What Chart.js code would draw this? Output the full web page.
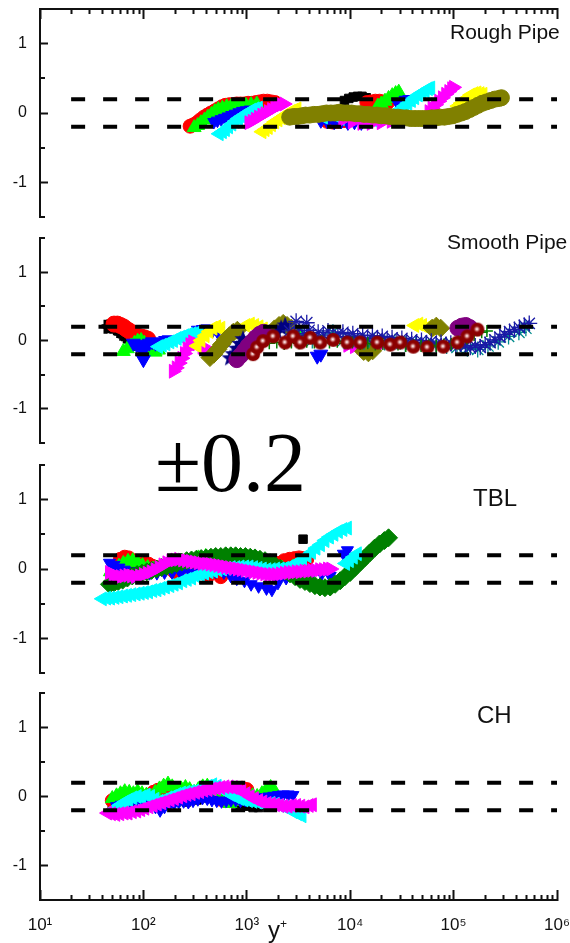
<!DOCTYPE html>
<html><head><meta charset="utf-8">
<script src="https://cdn.jsdelivr.net/npm/chart.js@4.4.1/dist/chart.umd.min.js"></script>
<style>
html,body{margin:0;padding:0;background:#fff;width:570px;height:943px;overflow:hidden;position:relative;}
canvas{position:absolute;left:0;}
.lbl{position:absolute;font-family:'Liberation Sans',Arial,sans-serif;color:#111;line-height:1;white-space:nowrap;}
.big{position:absolute;font-family:'Liberation Serif','Times New Roman',serif;color:#000;line-height:1;white-space:nowrap;}
</style></head>
<body>
<canvas id="p1" width="570" height="229" style="top:0px"></canvas>
<canvas id="p2" width="570" height="227" style="top:227px"></canvas>
<canvas id="p3" width="570" height="228" style="top:455px"></canvas>
<canvas id="p4" width="570" height="260" style="top:683px"></canvas>
<div class="lbl" style="left:450px;top:21px;font-size:21px">Rough Pipe</div>
<div class="lbl" style="left:447px;top:231px;font-size:21px">Smooth Pipe</div>
<div class="lbl" style="left:473px;top:486px;font-size:24px">TBL</div>
<div class="lbl" style="left:477px;top:703px;font-size:24px">CH</div>
<div class="big" style="left:155px;top:421px;font-size:84px">±0.2</div>
<div class="lbl" style="left:268px;top:918px;font-size:24px">y<span style="font-size:12px;vertical-align:10px">+</span></div>
<script>
// ---------- axis definitions ----------
const X_RANGE = [10, 1e6];
const Y_RANGE = [-1.5, 1.5];
const X_MAJOR = [10, 100, 1000, 10000, 100000, 1000000];
const Y_MAJOR = [-1, 0, 1];
const Y_MINOR = [-1.5, -0.5, 0.5, 1.5];
const BAND_LEVELS = [0.2, -0.2];
const BAND_X = [20, 1e6];

// ---------- Rough Pipe ----------
const rpBlack = [[290,-0.2],[320,-0.19],[350,-0.17],[3000,0.0],[5000,0.02],[8800,0.18],[9700,0.21],[10700,0.23],[11800,0.24],[13000,0.24],[14300,0.22]];
const rpRed = [[283,-0.19],[305,-0.17],[330,-0.14],[355,-0.1],[385,-0.06],[415,-0.03],[450,0.0],[490,0.03],[530,0.06],[575,0.09],[620,0.11],[680,0.12],[740,0.12],[800,0.13],[870,0.13],[950,0.13],[1030,0.14],[1120,0.14],[1220,0.15],[1330,0.16],[1450,0.17],[1580,0.17],[1720,0.16],[1880,0.15],[6000,-0.12],[6800,-0.13],[7700,-0.12],[8700,-0.11],[14500,0.15],[16000,0.16],[17500,0.17],[19200,0.17],[21000,0.16],[23000,0.15]];
const rpLime = [[310,-0.21],[335,-0.18],[360,-0.14],[390,-0.1],[420,-0.06],[455,-0.02],[490,0.02],[530,0.05],[580,0.07],[640,0.09],[710,0.1],[790,0.1],[880,0.11],[980,0.11],[1100,0.12],[1250,0.13],[18500,0.1],[20000,0.13],[21700,0.17],[23500,0.21],[25500,0.25],[27500,0.28],[29500,0.3]];
const rpBlue = [[480,-0.13],[520,-0.11],[565,-0.09],[610,-0.07],[660,-0.05],[715,-0.03],[775,-0.01],[840,0.01],[910,0.03],[990,0.04],[1080,0.05],[5200,-0.12],[6000,-0.13],[7000,-0.14],[8200,-0.13],[9500,-0.15],[11000,-0.14],[12800,-0.15],[15000,-0.13],[29000,0.13],[31500,0.16],[34000,0.19],[37000,0.2],[40000,0.2]];
const rpCyan = [[540,-0.3],[580,-0.27],[620,-0.24],[665,-0.2],[715,-0.16],[770,-0.12],[830,-0.08],[890,-0.05],[960,-0.02],[1030,0.01],[1110,0.04],[1200,0.06],[1290,0.07],[3500,-0.03],[5500,-0.06],[8000,-0.08],[12000,-0.1],[17000,-0.11],[24000,-0.07],[31000,0.06],[33500,0.1],[36000,0.14],[39000,0.18],[42000,0.22],[45500,0.26],[49000,0.29],[53000,0.32],[57000,0.35],[60000,0.36]];
const rpMagenta = [[1050,-0.14],[1130,-0.12],[1210,-0.09],[1300,-0.06],[1400,-0.03],[1500,-0.01],[1620,0.02],[1740,0.05],[1870,0.08],[2000,0.1],[2150,0.12],[2300,0.13],[8500,-0.1],[10500,-0.13],[13000,-0.15],[16000,-0.15],[20000,-0.14],[25000,-0.12],[32000,-0.11],[58000,0.02],[62000,0.07],[67000,0.12],[72000,0.17],[78000,0.22],[84000,0.27],[90000,0.31],[96000,0.35],[100000,0.37]];
const rpYellow = [[1400,-0.27],[1500,-0.24],[1610,-0.21],[1730,-0.17],[1860,-0.13],[2000,-0.1],[2150,-0.07],[2300,-0.04],[2480,-0.01],[2660,0.02],[2860,0.04],[3050,0.06],[110000,0.1],[118000,0.14],[127000,0.18],[136000,0.22],[146000,0.26],[157000,0.28],[168000,0.29],[180000,0.28],[192000,0.27]];
const rpOlive = [[2600,-0.06],[2850,-0.05],[3100,-0.05],[3400,-0.04],[3700,-0.03],[4050,-0.03],[4450,-0.02],[4900,-0.02],[5400,-0.01],[5900,0.0],[6500,0.0],[7100,0.0],[7800,0.01],[8600,0.0],[9400,0.0],[10300,0.0],[11300,-0.01],[12400,-0.01],[13600,-0.02],[15000,-0.02],[16500,-0.03],[18100,-0.03],[19900,-0.04],[21900,-0.04],[24000,-0.05],[26400,-0.06],[29000,-0.06],[31900,-0.07],[35000,-0.07],[38500,-0.08],[42300,-0.08],[46500,-0.08],[51000,-0.08],[56000,-0.08],[61500,-0.07],[67500,-0.07],[74000,-0.06],[81500,-0.06],[89500,-0.05],[98000,-0.04],[108000,-0.02],[119000,0.0],[130000,0.02],[143000,0.05],[157000,0.08],[172000,0.11],[189000,0.14],[208000,0.16],[228000,0.18],[250000,0.2],[275000,0.21],[290000,0.22]];

// ---------- Smooth Pipe ----------
const spBlack = [[43,0.2],[46,0.21],[49,0.2],[53,0.18],[57,0.14],[61,0.1],[66,0.06],[71,0.02],[77,-0.02],[83,-0.05],[90,-0.07]];
const spRed = [[52,0.24],[56,0.24],[60,0.22],[64,0.2],[68,0.17],[73,0.14],[78,0.11],[83,0.08],[89,0.06],[95,0.05],[102,0.04],[110,0.02]];
const spLime = [[64,-0.16],[70,-0.12],[76,-0.08],[82,-0.04],[88,-0.01],[95,0.0],[102,-0.04],[110,-0.1],[120,-0.16],[130,-0.17],[140,-0.14],[2900,0.1],[3300,0.09]];
const spBlue = [[80,-0.04],[86,-0.06],[92,-0.08],[99,-0.12],[106,-0.08],[114,-0.04],[122,-0.02],[131,-0.04],[141,-0.05],[152,-0.03],[164,0.0],[177,0.01],[100,-0.28],[340,0.15],[380,0.16],[420,0.17],[470,0.16],[520,0.14],[4800,-0.23],[5200,-0.2]];
const spCyan = [[140,-0.09],[152,-0.07],[165,-0.05],[180,-0.02],[195,0.0],[212,0.03],[230,0.05],[250,0.07],[272,0.09],[295,0.1],[320,0.11],[345,0.12]];
const spMagenta = [[195,-0.45],[208,-0.4],[222,-0.33],[236,-0.26],[250,-0.19],[265,-0.12],[282,-0.06],[300,-0.02],[330,-0.05],[370,-0.1],[410,-0.12],[9500,-0.07],[11000,-0.09],[12700,-0.1],[14500,-0.12],[16500,-0.1],[19000,-0.08]];
const spYellow = [[330,-0.08],[360,0.0],[395,0.07],[430,0.13],[470,0.18],[510,0.2],[560,0.18],[980,0.22],[1080,0.24],[1190,0.22],[1310,0.2],[1440,0.17],[42000,0.22],[46000,0.24],[50000,0.22],[55000,0.19],[60000,0.17]];
const spOlive = [[440,-0.25],[480,-0.2],[525,-0.13],[570,-0.06],[620,0.01],[680,0.07],[740,0.12],[810,0.15],[1850,0.17],[2050,0.22],[2250,0.25],[2450,0.22],[2700,0.18],[13500,-0.16],[15000,-0.18],[16500,-0.15],[62000,0.18],[68000,0.21],[75000,0.18]];
const spNavyStar = [[690,-0.26],[740,-0.2],[800,-0.12],[860,-0.05],[920,0.02],[1950,0.12],[2150,0.18],[2350,0.22]];
const spPurple = [[800,-0.28],[870,-0.22],[950,-0.15],[1030,-0.08],[1120,-0.02],[1220,0.04],[1330,0.09],[1450,0.12],[110000,0.18],[120000,0.21],[131000,0.22],[143000,0.19]];
const spMaroon = [[1150,-0.2],[1260,-0.1],[1440,-0.01],[1800,0.06],[2350,-0.03],[2810,0.06],[3290,-0.03],[4110,0.04],[5140,-0.03],[6850,0.01],[9380,-0.03],[12500,-0.03],[18300,-0.03],[24400,-0.06],[30600,-0.03],[40800,-0.09],[55700,-0.1],[79600,-0.09],[109000,-0.03],[136000,0.06],[170000,0.16]];
const spGreenCross = [[1400,-0.06],[1650,-0.04],[1950,-0.03],[2300,-0.05],[2700,-0.03],[3200,-0.04],[3800,-0.02],[4500,-0.03],[5300,-0.01],[6300,-0.03],[7500,-0.02],[8900,-0.04],[10500,-0.03],[12500,-0.05],[14800,-0.04],[17500,-0.06],[20700,-0.05],[24500,-0.07],[29000,-0.06],[34500,-0.08],[41000,-0.07],[48500,-0.08],[57500,-0.07],[68000,-0.08],[80500,-0.06],[95000,-0.05],[113000,-0.02],[134000,0.03],[158000,0.08],[187000,0.12],[210000,0.14]];
const spNavyAst = [[2600,0.14],[2900,0.08],[3000,0.28],[3200,0.18],[3600,0.1],[3800,0.26],[4000,0.15],[4400,0.06],[4900,0.12],[5500,0.08],[6100,0.14],[6800,0.05],[7600,0.1],[8500,0.12],[9500,0.06],[10600,0.1],[11800,0.04],[13200,0.08],[14700,0.02],[16400,0.07],[18300,0.03],[20400,0.06],[22800,0.0],[25400,0.04],[28300,-0.01],[31600,0.03],[35200,-0.02],[39300,0.01],[43800,-0.03],[48900,0.0],[54500,-0.04],[60800,-0.01],[67800,-0.05],[75600,-0.03],[84300,-0.06],[94000,-0.04],[105000,-0.07],[117000,-0.05],[130000,-0.08],[145000,-0.1],[162000,-0.08],[181000,-0.1],[202000,-0.06],[225000,-0.03],[251000,0.01],[280000,0.05],[312000,0.09],[348000,0.13],[388000,0.16],[433000,0.19],[483000,0.22],[539000,0.25]];
const spTealAst = [[2700,0.02],[3400,0.05],[4300,0.0],[5400,0.04],[6800,0.12],[8600,0.0],[10800,0.02],[13600,-0.02],[17100,0.0],[21500,-0.03],[27100,-0.02],[34100,-0.05],[43000,-0.04],[54100,-0.06],[68100,-0.07],[85700,-0.08],[108000,-0.1],[136000,-0.12],[171000,-0.13],[215000,-0.08],[270000,-0.02],[340000,0.06],[428000,0.12],[500000,0.18]];

// ---------- TBL ----------
const tbBlack = [[3500,0.43],[600,0.02],[1200,0.03]];
const tbRed = [[60,0.14],[66,0.17],[72,0.16],[79,0.12],[86,0.07],[94,0.06],[103,0.08],[112,0.07],[122,0.04],[134,0.02],[200,-0.04],[300,-0.07],[420,-0.1],[560,-0.11],[750,-0.06],[1100,-0.01],[1600,0.03],[2000,0.08],[2300,0.12],[2600,0.14],[2900,0.15],[3200,0.16],[3500,0.15],[3800,0.14]];
const tbLime = [[48,-0.04],[53,0.0],[58,0.04],[64,0.08],[71,0.11],[79,0.12],[88,0.09],[98,0.05],[110,0.02],[125,0.0],[145,-0.01],[170,0.0],[200,0.03],[240,0.07],[290,0.12],[340,0.16],[400,0.18],[460,0.14],[540,0.1],[650,0.06],[800,0.04],[1000,0.02],[1300,0.01],[1700,0.0],[2200,0.01],[2800,0.03],[3400,0.06]];
const tbBlue = [[47,0.09],[52,0.06],[58,0.02],[65,-0.01],[74,-0.03],[85,-0.04],[98,-0.05],[115,-0.06],[135,-0.06],[160,-0.05],[190,-0.05],[230,-0.06],[280,-0.05],[340,-0.05],[410,-0.05],[500,-0.04],[600,-0.05],[700,-0.1],[800,-0.14],[950,-0.17],[1100,-0.22],[1300,-0.25],[1550,-0.28],[1750,-0.3],[2000,-0.2],[2400,-0.13],[2900,-0.08],[3500,-0.05],[4300,-0.05],[5300,-0.07],[6400,-0.1],[8600,0.22],[9400,0.27]];
const tbGreen = [[47,-0.22],[52,-0.2],[57,-0.18],[63,-0.16],[70,-0.13],[78,-0.1],[87,-0.08],[97,-0.06],[108,-0.04],[120,-0.02],[134,0.0],[150,0.02],[168,0.04],[188,0.06],[210,0.08],[235,0.1],[262,0.12],[292,0.13],[325,0.14],[362,0.15],[405,0.16],[450,0.17],[500,0.18],[560,0.18],[625,0.19],[700,0.19],[780,0.19],[870,0.18],[970,0.18],[1080,0.17],[1200,0.16],[1340,0.14],[1500,0.12],[1680,0.09],[1880,0.05],[2100,0.01],[2350,-0.03],[2620,-0.07],[2930,-0.11],[3270,-0.15],[3650,-0.18],[4080,-0.21],[4560,-0.24],[5100,-0.26],[5700,-0.27],[6400,-0.26],[7150,-0.22],[8000,-0.17],[8900,-0.11],[10000,-0.05],[11100,0.02],[12400,0.09],[13800,0.16],[15400,0.23],[17200,0.3],[19200,0.36],[21400,0.41],[23500,0.45]];
const tbCyan = [[40,-0.43],[44,-0.42],[48,-0.42],[53,-0.41],[58,-0.4],[64,-0.39],[70,-0.38],[77,-0.37],[85,-0.36],[93,-0.35],[102,-0.34],[112,-0.33],[123,-0.31],[135,-0.3],[148,-0.28],[163,-0.26],[180,-0.24],[198,-0.22],[218,-0.2],[240,-0.17],[265,-0.15],[292,-0.13],[322,-0.1],[355,-0.08],[390,-0.06],[430,-0.04],[475,-0.03],[525,-0.01],[580,0.0],[640,0.01],[705,0.02],[780,0.02],[860,0.03],[950,0.03],[1050,0.03],[1160,0.02],[1280,0.01],[1410,0.0],[1560,-0.01],[1720,-0.01],[1900,0.0],[2100,0.0],[2320,0.01],[2560,0.03],[2830,0.06],[3130,0.1],[3460,0.14],[3820,0.19],[4220,0.24],[4660,0.3],[5150,0.35],[5690,0.41],[6290,0.46],[6950,0.5],[7680,0.54],[8490,0.57],[9380,0.59],[9000,0.08],[9800,0.12],[10700,0.17],[11700,0.22]];
const tbMagenta = [[47,-0.05],[51,-0.08],[55,-0.1],[60,-0.11],[65,-0.1],[71,-0.09],[77,-0.1],[84,-0.11],[92,-0.1],[100,-0.08],[109,-0.06],[119,-0.04],[130,-0.01],[142,0.02],[155,0.06],[169,0.09],[185,0.12],[202,0.13],[220,0.14],[240,0.13],[262,0.12],[286,0.11],[312,0.1],[340,0.09],[371,0.08],[405,0.08],[442,0.07],[482,0.06],[526,0.05],[574,0.04],[626,0.03],[683,0.02],[745,0.01],[813,0.0],[887,-0.01],[968,-0.02],[1056,-0.03],[1152,-0.04],[1257,-0.05],[1372,-0.06],[1497,-0.07],[1633,-0.08],[1782,-0.08],[1944,-0.08],[2121,-0.07],[2314,-0.06],[2525,-0.05],[2755,-0.05],[3006,-0.04],[3280,-0.04],[3579,-0.03],[3905,-0.03],[4260,-0.02],[4648,-0.02],[5072,-0.01],[5534,-0.01],[6038,0.0],[6500,0.0]];

// ---------- CH ----------
const chBlack = [[50,-0.2],[55,-0.18],[62,-0.15],[70,-0.13],[80,-0.1],[120,-0.08],[160,-0.05],[200,-0.06],[260,-0.08],[330,-0.05],[420,-0.02],[500,-0.04],[600,-0.06],[720,-0.09],[860,-0.11],[1000,-0.14],[1150,-0.16],[1300,-0.16],[1500,-0.12],[1750,-0.1]];
const chRed = [[50,-0.06],[54,-0.05],[58,-0.05],[125,0.06],[138,0.09],[152,0.11],[167,0.12],[184,0.12],[202,0.1],[222,0.08],[560,-0.04],[620,-0.06],[680,-0.06],[900,0.12],[1000,0.1]];
const chLime = [[50,-0.03],[55,0.01],[60,0.04],[66,0.07],[73,0.06],[80,0.04],[88,0.07],[97,0.04],[107,0.02],[118,0.0],[130,0.06],[143,0.11],[157,0.15],[173,0.18],[190,0.14],[210,0.1],[232,0.11],[255,0.13],[280,0.1],[310,0.06],[340,0.1],[375,0.14],[415,0.15],[460,0.08],[510,0.02],[565,-0.02],[625,-0.06],[690,-0.1],[760,-0.07],[840,-0.03],[930,0.0],[1030,0.02],[1140,0.01],[1260,0.0],[1400,0.04],[1550,0.1],[1700,0.13],[1850,0.08]];
const chBlue = [[55,-0.14],[61,-0.12],[68,-0.1],[76,-0.08],[85,-0.06],[95,-0.05],[106,-0.07],[118,-0.1],[131,-0.15],[145,-0.2],[160,-0.15],[178,-0.12],[198,-0.1],[220,-0.08],[245,-0.07],[272,-0.08],[302,-0.06],[336,-0.04],[373,-0.02],[415,-0.03],[460,-0.05],[512,-0.06],[569,-0.07],[632,-0.06],[703,-0.05],[782,-0.05],[869,-0.06],[966,-0.05],[1074,-0.04],[1194,-0.02],[1328,-0.03],[1476,-0.01],[1641,0.0],[1825,0.01],[2029,0.02],[2256,0.03],[2508,0.03],[2788,0.02]];
const chCyan = [[50,-0.2],[55,-0.16],[60,-0.12],[66,-0.08],[72,-0.05],[79,-0.02],[87,0.0],[96,-0.01],[106,0.02],[117,0.0],[129,-0.04],[142,-0.07],[157,-0.05],[173,-0.02],[191,0.0],[211,0.03],[233,0.05],[257,0.06],[284,0.07],[314,0.08],[347,0.1],[383,0.12],[423,0.15],[467,0.17],[516,0.15],[570,0.11],[630,0.07],[696,0.03],[769,0.0],[849,-0.03],[938,-0.05],[1036,-0.06],[1144,-0.07],[1264,-0.08],[1396,-0.1],[1542,-0.11],[1703,-0.1],[1881,-0.11],[2078,-0.13],[2295,-0.15],[2535,-0.18],[2800,-0.22],[3093,-0.25],[3416,-0.28]];
const chMagenta = [[45,-0.24],[49,-0.25],[54,-0.26],[59,-0.25],[65,-0.24],[71,-0.24],[78,-0.22],[86,-0.21],[94,-0.19],[103,-0.17],[113,-0.15],[124,-0.13],[136,-0.11],[150,-0.09],[165,-0.07],[181,-0.05],[199,-0.03],[218,-0.01],[240,0.01],[263,0.03],[289,0.04],[318,0.06],[349,0.07],[383,0.09],[421,0.1],[462,0.11],[508,0.12],[558,0.13],[613,0.14],[673,0.14],[739,0.13],[812,0.11],[892,0.08],[980,0.04],[1076,0.0],[1182,-0.03],[1299,-0.06],[1427,-0.08],[1567,-0.1],[1721,-0.11],[1891,-0.12],[2077,-0.13],[2281,-0.14],[2506,-0.14],[2753,-0.13],[3024,-0.13],[3322,-0.14],[3649,-0.15],[4008,-0.13],[4300,-0.12]];

// ---------- marker glyphs ----------
function makeStar(r, color) {
  const c = document.createElement('canvas'); c.width = c.height = 2 * r + 2;
  const g = c.getContext('2d'); g.fillStyle = color; g.beginPath();
  for (let i = 0; i < 10; i++) {
    const a = -Math.PI / 2 + i * Math.PI / 5, rr = i % 2 ? r * 0.42 : r;
    g.lineTo(r + 1 + rr * Math.cos(a), r + 1 + rr * Math.sin(a));
  }
  g.closePath(); g.fill(); return c;
}
function makeSphere(r) {
  const c = document.createElement('canvas'); c.width = c.height = 2 * r + 2;
  const g = c.getContext('2d'); const m = r + 1;
  g.fillStyle = '#8b0000'; g.beginPath(); g.arc(m, m, r, 0, Math.PI * 2); g.fill();
  const gr = g.createRadialGradient(m - 0.5, m - 0.5, 0, m - 0.5, m - 0.5, r * 0.55);
  gr.addColorStop(0, 'rgba(255,255,255,1)'); gr.addColorStop(0.4, 'rgba(235,180,180,0.85)'); gr.addColorStop(1, 'rgba(139,0,0,0)');
  g.fillStyle = gr; g.beginPath(); g.arc(m, m, r, 0, Math.PI * 2); g.fill();
  return c;
}
const STAR = makeStar(9, '#000080');
const SPHERE = makeSphere(7);

function S(data, color, style, r, rot, bw) {
  return { data, color, style, r, rot: rot || 0, bw: bw == null ? 1 : bw };
}
const panels = [
  { id: 'p1', pos: 'top', padTop: 9, padBottom: 12, series: [
    S(rpBlack, '#000000', 'rect', 6), S(rpRed, '#ff0000', 'circle', 7), S(rpLime, '#00ff00', 'triangle', 8),
    S(rpBlue, '#0000ff', 'triangle', 7, 180), S(rpCyan, '#00ffff', 'triangle', 8, -90), S(rpMagenta, '#ff00ff', 'triangle', 8, 90),
    S(rpYellow, '#ffff00', 'triangle', 8, -90), S(rpOlive, '#808000', 'circle', 8)] },
  { id: 'p2', pos: null, padTop: 10, padBottom: 10, series: [
    S(spBlack, '#000000', 'cross', 7, 0, 4), S(spRed, '#ff0000', 'circle', 8), S(spLime, '#00ff00', 'triangle', 8),
    S(spBlue, '#0000ff', 'triangle', 8, 180), S(spCyan, '#00ffff', 'triangle', 8, -90), S(spMagenta, '#ff00ff', 'triangle', 8, 90),
    S(spYellow, '#ffff00', 'triangle', 8, -90), S(spOlive, '#808000', 'rectRot', 9), S(spNavyStar, '#000080', STAR, 9),
    S(spPurple, '#800080', 'circle', 8), S(spTealAst, '#008b8b', 'star', 8, 0, 1.3), S(spNavyAst, '#1a1aa6', 'star', 8, 0, 1.3),
    S(spGreenCross, '#008000', 'cross', 6, 0, 1.5), S(spMaroon, '#800000', SPHERE, 7)] },
  { id: 'p3', pos: null, padTop: 10, padBottom: 10, series: [
    S(tbBlack, '#000000', 'rect', 6), S(tbRed, '#ff0000', 'circle', 7), S(tbLime, '#00ff00', 'triangle', 8),
    S(tbBlue, '#0000ff', 'triangle', 7, 180), S(tbGreen, '#008000', 'rectRot', 9), S(tbCyan, '#00ffff', 'triangle', 8, -90),
    S(tbMagenta, '#ff00ff', 'triangle', 8, 90)] },
  { id: 'p4', pos: 'bottom', padTop: 10, padBottom: 0, series: [
    S(chBlack, '#000000', 'rect', 6), S(chRed, '#ff0000', 'circle', 7), S(chLime, '#00ff00', 'triangle', 8),
    S(chBlue, '#0000ff', 'triangle', 7, 180), S(chCyan, '#00ffff', 'triangle', 8, -90), S(chMagenta, '#ff00ff', 'triangle', 8, -90)] }
];

const SUP = ['\u2070', '\u00b9', '\u00b2', '\u00b3', '\u2074', '\u2075', '\u2076'];
const AXIS_COLOR = '#111';
const FONT = "'Liberation Sans', Arial, sans-serif";

const minorTicks = {
  id: 'minorTicks',
  afterDraw(chart) {
    const ctx = chart.ctx, ys = chart.scales.y, xs = chart.scales.x;
    ctx.save(); ctx.strokeStyle = AXIS_COLOR; ctx.lineWidth = 2; ctx.beginPath();
    for (const v of Y_MINOR) {
      const py = Math.round(ys.getPixelForValue(v));
      ctx.moveTo(ys.right - 1, py); ctx.lineTo(ys.right + 5, py);
    }
    if (xs.options.display) {
      const top = xs.options.position === 'top';
      const base = top ? xs.bottom : xs.top;
      for (let e = 1; e < 6; e++) for (let m = 2; m <= 9; m++) {
        const px = Math.round(xs.getPixelForValue(m * Math.pow(10, e))) + 0.5;
        ctx.moveTo(px, base); ctx.lineTo(px, top ? base + 5 : base - 5);
      }
    }
    ctx.stroke(); ctx.restore();
  }
};
function zeroPad(s) { s.paddingTop = 0; s.paddingBottom = 0; s.paddingLeft = 0; s.paddingRight = 0; }

panels.forEach((p) => {
  const datasets = p.series.map((s, i) => ({
    data: s.data.map(([x, y]) => ({ x, y })),
    pointStyle: s.style, pointRadius: s.r, pointRotation: s.rot,
    pointBackgroundColor: s.color, pointBorderColor: s.color, pointBorderWidth: s.bw,
    backgroundColor: s.color, borderColor: s.color, showLine: false, order: -i
  }));
  BAND_LEVELS.forEach((lv) => datasets.push({
    data: [{ x: BAND_X[0], y: lv }, { x: BAND_X[1], y: lv }], showLine: true,
    borderColor: '#000', borderWidth: 4, borderDash: [14, 18], borderCapStyle: 'butt',
    pointRadius: 0, order: -1000
  }));
  const xDisplay = p.pos !== null;
  new Chart(document.getElementById(p.id), {
    type: 'scatter',
    data: { datasets },
    options: {
      responsive: false, animation: false, events: [],
      layout: { padding: { top: p.padTop, bottom: p.padBottom, left: 0, right: 13 } },
      plugins: { legend: { display: false }, tooltip: { enabled: false } },
      scales: {
        x: {
          type: 'logarithmic', min: X_RANGE[0], max: X_RANGE[1], display: xDisplay,
          position: p.pos || 'bottom',
          afterBuildTicks: (s) => { s.ticks = X_MAJOR.map(v => ({ value: v, major: true })); },
          afterFit: (s) => { s.height = p.pos === 'bottom' ? 43 : 0; zeroPad(s); },
          grid: { drawOnChartArea: false, drawTicks: true, tickLength: -10, tickWidth: 2, tickColor: AXIS_COLOR },
          border: { display: true, color: AXIS_COLOR, width: 2 },
          ticks: {
            display: p.pos === 'bottom', autoSkip: false, maxRotation: 0, padding: 25,
            color: '#111', font: { family: FONT, size: 17 },
            callback: (v) => '10' + SUP[Math.round(Math.log10(v))]
          }
        },
        y: {
          type: 'linear', min: Y_RANGE[0], max: Y_RANGE[1],
          afterBuildTicks: (s) => { s.ticks = Y_MAJOR.map(v => ({ value: v })); },
          afterFit: (s) => { s.width = 40; zeroPad(s); },
          grid: { drawOnChartArea: false, drawTicks: true, tickLength: -8, tickWidth: 2, tickColor: AXIS_COLOR },
          border: { display: true, color: AXIS_COLOR, width: 2 },
          ticks: { padding: 21, color: '#111', font: { family: FONT, size: 16 }, callback: (v) => String(v) }
        }
      }
    },
    plugins: [minorTicks]
  });
});
</script>
</body></html>
